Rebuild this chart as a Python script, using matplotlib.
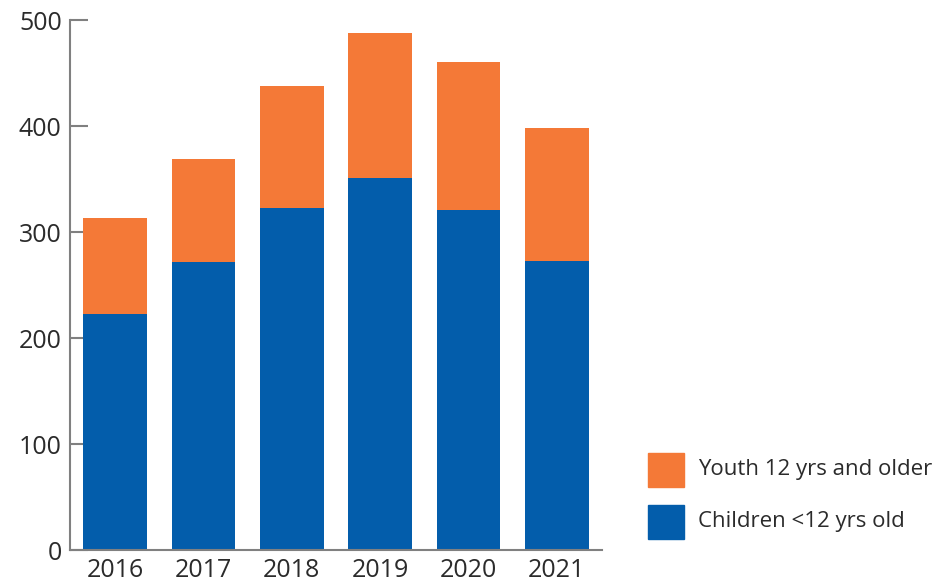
import matplotlib
matplotlib.use("Agg")
import matplotlib.pyplot as plt
from matplotlib.patches import Rectangle
import numpy as np

years = ["2016", "2017", "2018", "2019", "2020", "2021"]
children = [223, 272, 323, 351, 321, 273]
youth = [90, 97, 115, 137, 139, 125]

blue = "#035DAB"
orange = "#F47937"
txt = "#2b2b2b"

plt.rcParams['font.family'] = ['Open Sans', 'DejaVu Sans']

fig = plt.figure(figsize=(9.5, 5.83), dpi=100)
ax = fig.add_axes([70/950, 33/583, 532/950, 530/583])

x = np.arange(len(years))
ax.bar(x, children, width=0.72, color=blue, zorder=2)
ax.bar(x, youth, width=0.72, bottom=children, color=orange, zorder=2)

ax.set_xlim(-0.51, 5.51)
ax.set_ylim(0, 500)
ax.set_xticks(x)
ax.set_xticklabels(years)
ax.set_yticks(range(0, 501, 100))

for s in ["top", "right"]:
    ax.spines[s].set_visible(False)
for s in ["left", "bottom"]:
    ax.spines[s].set_color("#808080")
    ax.spines[s].set_linewidth(1.5)

ax.tick_params(axis="y", direction="in", length=13, width=1.5, color="#808080",
               labelsize=18, labelcolor=txt, pad=6)
ax.tick_params(axis="x", length=0, labelsize=18, labelcolor=txt, pad=6)

# legend drawn by hand
labels = ["Youth 12 yrs and older", "Children <12 yrs old"]
colors = [orange, blue]
ys = [470, 522]
for lab, c, yc in zip(labels, colors, ys):
    fig.add_artist(Rectangle((648/950, (583 - yc - 17)/583), 36/950, 34/583,
                             transform=fig.transFigure, color=c))
    fig.text(698/950, (583 - yc)/583, lab, fontsize=16, color=txt,
             va="center", ha="left")

fig.savefig("out.png", dpi=100)
